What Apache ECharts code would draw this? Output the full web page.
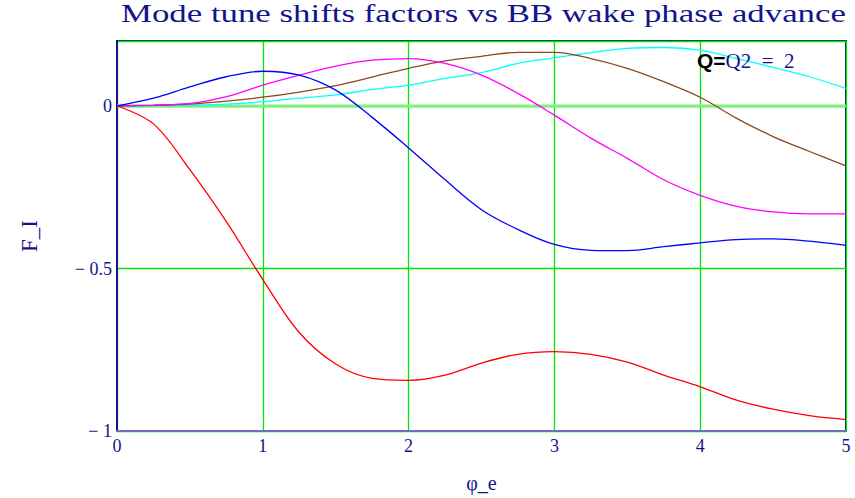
<!DOCTYPE html>
<html>
<head>
<meta charset="utf-8">
<script src="https://cdn.jsdelivr.net/npm/echarts@6/dist/echarts.min.js"></script>
<style>html,body{margin:0;padding:0;background:#fff;}#c{width:855px;height:498px;}</style>
</head>
<body>
<div id="c"></div>
<script>
const phi = [0,0.25,0.5,0.75,1,1.25,1.5,1.75,2,2.25,2.5,2.75,3,3.25,3.5,3.75,4,4.25,4.5,4.75,5];
const red     = [0,-0.055,-0.196,-0.356,-0.534,-0.697,-0.794,-0.838,-0.844,-0.828,-0.791,-0.764,-0.756,-0.764,-0.788,-0.828,-0.864,-0.905,-0.933,-0.953,-0.965];
const blue    = [0,0.024,0.059,0.090,0.107,0.095,0.049,-0.035,-0.129,-0.227,-0.319,-0.380,-0.426,-0.444,-0.445,-0.433,-0.421,-0.411,-0.409,-0.416,-0.429];
const magenta = [0,0.003,0.008,0.029,0.064,0.095,0.123,0.141,0.146,0.131,0.095,0.039,-0.028,-0.099,-0.161,-0.227,-0.275,-0.309,-0.326,-0.332,-0.332];
const brown   = [0,0.002,0.006,0.015,0.027,0.043,0.063,0.089,0.116,0.139,0.153,0.165,0.165,0.146,0.116,0.075,0.027,-0.038,-0.094,-0.140,-0.184];
const cyan    = [0,0.001,0.002,0.006,0.013,0.024,0.034,0.051,0.064,0.085,0.103,0.131,0.148,0.164,0.177,0.180,0.172,0.146,0.119,0.090,0.054];
const zeroLine = [0,0,0,0,0,0,0,0,0,0,0,0,0,0,0,0,0,0,0,0,0];
const xTicks = [0,1,2,3,4,5];
const yTicks = [-1,-0.5,0];

const navy = '#14148a';
const serif = '"Liberation Serif","DejaVu Serif",serif';
function pairs(ys){ return phi.map((x,i)=>[x,ys[i]]); }
function ser(name, ys, color){
  return {name, type:'line', data:pairs(ys), showSymbol:false, smooth:0.35,
    lineStyle:{color, width:1.3}, itemStyle:{color}, silent:true, animation:false};
}
const chart = echarts.init(document.getElementById('c'), null, {renderer:'svg'});
chart.setOption({
  backgroundColor:'#fff',
  animation:false,
  grid:{left:117, right:9, top:41, bottom:66, show:true, borderColor:navy, borderWidth:2, backgroundColor:'transparent'},
  xAxis:{type:'value', min:0, max:5, interval:1, name:'φ_e', nameLocation:'middle', nameGap:42,
    nameTextStyle:{fontFamily:serif, fontSize:20, color:navy},
    axisLine:{show:true, onZero:false, lineStyle:{color:'#7070b8', width:2}},
    axisTick:{show:false},
    axisLabel:{fontFamily:serif, fontSize:18, color:navy, margin:6, formatter:v=>xTicks.includes(v)?String(v):''},
    splitLine:{show:true, lineStyle:{color:'#00e600', width:1.3}}},
  yAxis:{type:'value', min:-1, max:0.2, interval:0.5, name:'F_I', nameLocation:'middle', nameGap:76, nameRotate:90,
    nameTextStyle:{fontFamily:serif, fontSize:23, color:navy},
    axisLine:{show:true, onZero:false, lineStyle:{color:navy, width:2}},
    axisTick:{show:false},
    axisLabel:{fontFamily:serif, fontSize:18, color:navy, margin:5,
      formatter:v=>yTicks.includes(v)?(v<0?'\u2212 '+String(-v):String(v)):''},
    splitLine:{show:true, lineStyle:{color:'#00e600', width:1.3}}},
  series:[
    Object.assign(ser('zero', zeroLine, '#80f080'),{lineStyle:{color:'#80f080', width:3}, smooth:false}),
    ser('m4', cyan, '#00ffff'),
    ser('m3', brown, '#8b4a1e'),
    ser('m2', magenta, '#ff00ff'),
    ser('m1', blue, '#0000ff'),
    ser('m0', red, '#ff0000')
  ],
  graphic:[
    {type:'text', x:121, y:1, z:10, scaleX:1.36, originX:0, originY:0,
      style:{text:'Mode tune shifts factors vs BB wake phase advance', fontFamily:serif, fontSize:25.6, fill:navy}},
    {type:'text', left:697, top:50, z:10,
      style:{text:'{a|Q=}{b|Q2  =  2}', rich:{
        a:{fontFamily:'"Liberation Sans",Arial,sans-serif', fontWeight:'bold', fontSize:21, fill:'#000', color:'#000'},
        b:{fontFamily:serif, fontSize:21, fill:navy, color:navy}}}}
  ]
});
</script>
</body>
</html>
